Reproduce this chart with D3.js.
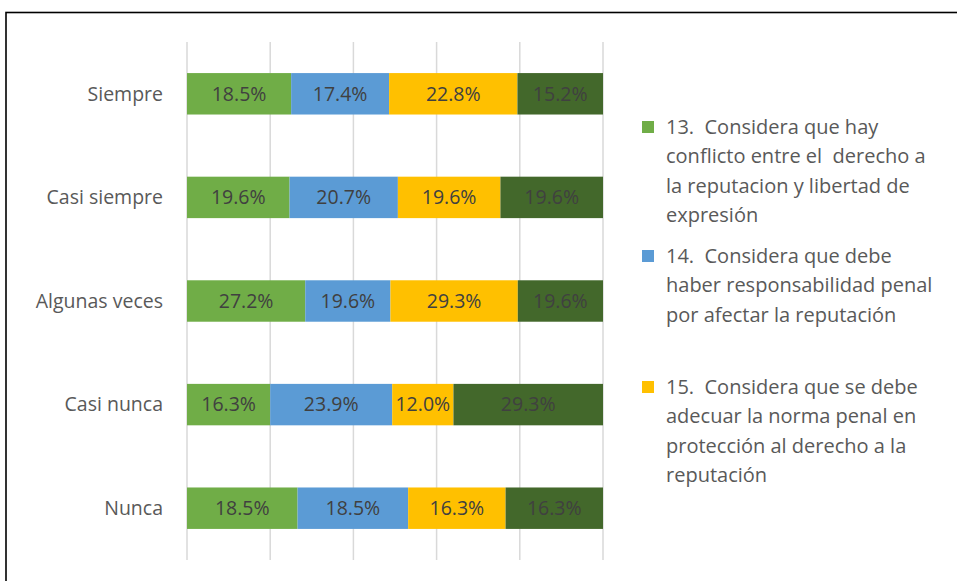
<!DOCTYPE html>
<html>
<head>
<meta charset="utf-8">
<script src="https://cdn.jsdelivr.net/npm/d3@7"></script>
<style>
  body { margin: 0; background: #fff; }
  svg text { font-family: "Open Sans", "Noto Sans", sans-serif; white-space: pre; }
</style>
</head>
<body>
<div id="chart"></div>
<script>
// categories (top to bottom) and series values in %
const categories = ["Siempre", "Casi siempre", "Algunas veces", "Casi nunca", "Nunca"];
const seriesKeys = ["q13", "q14", "q15", "q16"];
const q13 = [18.5, 19.6, 27.2, 16.3, 18.5];
const q14 = [17.4, 20.7, 19.6, 23.9, 18.5];
const q15 = [22.8, 19.6, 29.3, 12.0, 16.3];
const q16 = [15.2, 19.6, 19.6, 29.3, 16.3];
const seriesColors = ["#70AD47", "#5B9BD5", "#FFC000", "#43682B"];
const legendItems = [
  ["13.  Considera que hay", "conflicto entre el  derecho a", "la reputacion y libertad de", "expresión"],
  ["14.  Considera que debe", "haber responsabilidad penal", "por afectar la reputación"],
  ["15.  Considera que se debe", "adecuar la norma penal en", "protección al derecho a la", "reputación"]
];
const xTicks = [0, 0.2, 0.4, 0.6, 0.8, 1];

const width = 957;
const height = 581;

// build rows for the stack
const rows = categories.map((c, i) => ({
  cat: c, q13: q13[i], q14: q14[i], q15: q15[i], q16: q16[i]
}));

const stacked = d3.stack()
  .keys(seriesKeys)
  .offset(d3.stackOffsetExpand)(rows);

const svg = d3.select("#chart")
  .append("svg")
  .attr("width", width)
  .attr("height", height);

// outer frame
svg.append("rect")
  .attr("x", 6)
  .attr("y", 12.5)
  .attr("width", 970)
  .attr("height", 600)
  .attr("fill", "none")
  .attr("stroke", "#000")
  .attr("stroke-width", 1.6);

const x = d3.scaleLinear().domain([0, 1]).range([187, 603]);
const y = d3.scaleBand().domain(categories).range([42, 560]).paddingInner(0.6).paddingOuter(0.3);

// vertical gridlines
svg.append("g")
  .selectAll("line")
  .data(xTicks)
  .enter()
  .append("line")
  .attr("x1", d => x(d))
  .attr("x2", d => x(d))
  .attr("y1", 42)
  .attr("y2", 560)
  .attr("stroke", "#D9D9D9")
  .attr("stroke-width", 1.5);

// category labels
svg.append("g")
  .selectAll("text")
  .data(categories)
  .enter()
  .append("text")
  .attr("x", 163)
  .attr("y", d => y(d) + y.bandwidth() / 2)
  .attr("dy", "0.35em")
  .attr("text-anchor", "end")
  .style("font-size", "19.5px")
  .style("fill", "#595959")
  .text(d => d);

// stacked bars
const layers = svg.append("g")
  .selectAll("g")
  .data(stacked)
  .enter()
  .append("g")
  .attr("fill", (d, i) => seriesColors[i]);

layers.selectAll("rect")
  .data(d => d)
  .enter()
  .append("rect")
  .attr("x", d => x(d[0]))
  .attr("y", d => y(d.data.cat))
  .attr("width", d => x(d[1]) - x(d[0]))
  .attr("height", y.bandwidth());

// value labels
layers.selectAll("text")
  .data(d => d.map(v => ({ v: v, key: d.key })))
  .enter()
  .append("text")
  .attr("x", d => (x(d.v[0]) + x(d.v[1])) / 2)
  .attr("y", d => y(d.v.data.cat) + y.bandwidth() / 2)
  .attr("dy", "0.35em")
  .attr("text-anchor", "middle")
  .style("font-size", "19.5px")
  .style("fill", "#404040")
  .text(d => d.v.data[d.key].toFixed(1) + "%");

// legend
const legendTop = [127, 256, 387];
const lineH = 29.3;
legendItems.forEach((lines, i) => {
  const g = svg.append("g");
  g.append("rect")
    .attr("x", 642)
    .attr("y", legendTop[i] - 6)
    .attr("width", 12)
    .attr("height", 12)
    .attr("fill", seriesColors[i]);
  g.selectAll("text")
    .data(lines)
    .enter()
    .append("text")
    .attr("x", 666)
    .attr("y", (d, j) => legendTop[i] + j * lineH)
    .attr("dy", "0.35em")
    .style("font-size", "20px")
    .style("fill", "#595959")
    .text(d => d);
});
</script>
</body>
</html>
